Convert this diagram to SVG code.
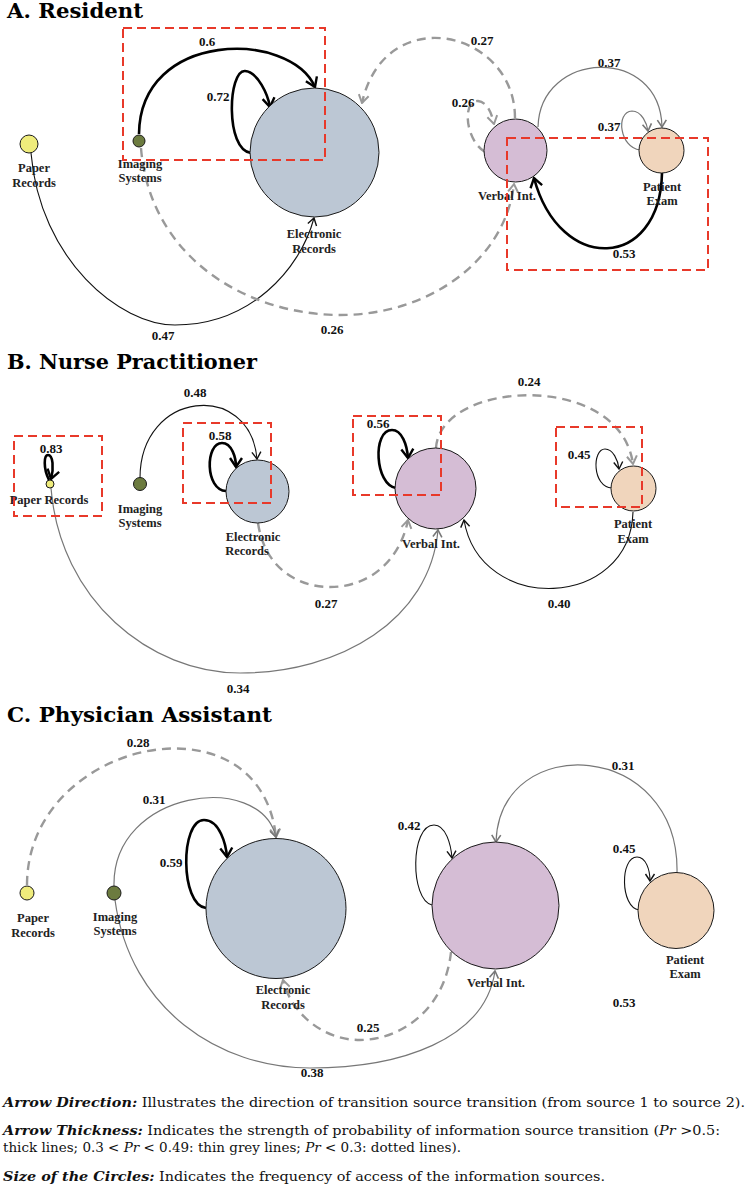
<svg xmlns="http://www.w3.org/2000/svg" width="750" height="1193" viewBox="0 0 750 1193">
<style>
.nd{stroke:#1a1a1a;stroke-width:1}
.lbl{font-family:"Liberation Serif",serif;font-weight:bold;font-size:12.5px;fill:#222;text-anchor:middle}
.el{font-family:"Liberation Serif",serif;font-weight:bold;font-size:13px;fill:#111;text-anchor:middle}
.thick{fill:none;stroke:#000;stroke-width:2.6;marker-end:url(#aThick)}
.thin{fill:none;stroke:#111;stroke-width:1.1;marker-end:url(#aThin)}
.grey{fill:none;stroke:#777;stroke-width:1.2;marker-end:url(#aGrey)}
.dash{fill:none;stroke:#999;stroke-width:2.4;stroke-dasharray:9 6;marker-end:url(#aDash)}
.hl{fill:none;stroke:#e8392a;stroke-width:2;stroke-dasharray:9 5}
.title{font-family:"DejaVu Serif",serif;font-weight:bold;font-size:21px;fill:#000}
.leg{font-family:"DejaVu Serif",serif;font-size:12px;fill:#111}
.legb{font-weight:bold;font-style:italic}
.it{font-style:italic}
.paper{fill:#efec7c}.imaging{fill:#6c7b3f}.elec{fill:#bcc7d4}.verbal{fill:#d5bdd5}.patient{fill:#f0d5bc}
</style>
<defs>
<marker id="aThick" viewBox="-11 -8 13 16" refX="0" refY="0" markerWidth="13" markerHeight="16" markerUnits="userSpaceOnUse" orient="auto"><path d="M-9,-6 L0,0 L-9,6" fill="none" stroke="#000" stroke-width="2.4"/></marker>
<marker id="aThin" viewBox="-9 -6 10 12" refX="0" refY="0" markerWidth="10" markerHeight="12" markerUnits="userSpaceOnUse" orient="auto"><path d="M-7,-4.5 L0,0 L-7,4.5" fill="none" stroke="#111" stroke-width="1.4"/></marker>
<marker id="aGrey" viewBox="-9 -6 10 12" refX="0" refY="0" markerWidth="10" markerHeight="12" markerUnits="userSpaceOnUse" orient="auto"><path d="M-7,-4.5 L0,0 L-7,4.5" fill="none" stroke="#777" stroke-width="1.6"/></marker>
<marker id="aDash" viewBox="-10 -7 11 14" refX="0" refY="0" markerWidth="11" markerHeight="14" markerUnits="userSpaceOnUse" orient="auto"><path d="M-8,-5 L0,0 L-8,5" fill="none" stroke="#999" stroke-width="2"/></marker>
</defs>
<rect width="750" height="1193" fill="#fff"/>

<g id="titles">
<text class="title" x="7" y="18" textLength="136" lengthAdjust="spacingAndGlyphs">A. Resident</text>
<text class="title" x="7" y="369" textLength="250" lengthAdjust="spacingAndGlyphs">B. Nurse Practitioner</text>
<text class="title" x="7" y="722" textLength="265" lengthAdjust="spacingAndGlyphs">C. Physician Assistant</text>
</g>

<g id="connectors">
<!-- A -->
<path class="thick" d="M139,134 C140,30 290,30 315,87"/>
<path class="thick" d="M251,153 C225,150 228,70 245,71 C258,72 268,95 270,107"/>
<path class="thin" d="M31,153 C40,260 120,325 175,325 C250,325 300,270 314,218"/>
<path class="dash" d="M141,148 C150,260 250,315 340,315 C430,315 505,260 514,184"/>
<path class="dash" d="M515,118 C515,30 385,0 362,103"/>
<path class="dash" d="M485,152 C465,140 462,100 478,101 C488,102 492,115 494,124"/>
<path class="grey" d="M538,127 C540,50 660,45 662,127"/>
<path class="grey" d="M640,150 C620,148 615,112 632,111 C642,111 647,124 648,131"/>
<path class="thick" d="M662,173 C660,270 560,275 534,178"/>
<text class="el" x="207" y="46">0.6</text>
<text class="el" x="218" y="101">0.72</text>
<text class="el" x="163" y="340">0.47</text>
<text class="el" x="332" y="334">0.26</text>
<text class="el" x="482" y="45">0.27</text>
<text class="el" x="463" y="107">0.26</text>
<text class="el" x="609" y="67">0.37</text>
<text class="el" x="609" y="131">0.37</text>
<text class="el" x="624" y="258">0.53</text>
<!-- B -->
<path class="thick" d="M49,480 C43,468 44,455 48,455 C53,455 54,468 51,479"/>
<path class="thin" d="M140,478 C140,390 250,380 257,459"/>
<path class="thick" d="M226,491 C205,490 205,443 222,443 C232,443 236,458 236,467"/>
<path class="dash" d="M258,523 C265,570 300,587 330,587 C370,587 400,560 408,520"/>
<path class="thick" d="M396,488 C375,485 372,430 392,430 C402,430 407,445 408,458"/>
<path class="dash" d="M436,448 C440,380 620,370 633,464"/>
<path class="thin" d="M612,488 C592,487 592,449 605,449 C613,449 618,460 619,469"/>
<path class="thin" d="M633,512 C630,610 480,615 464,520"/>
<path class="grey" d="M51,488 C60,600 150,673 240,673 C340,673 430,620 438,530"/>
<text class="el" x="51" y="453">0.83</text>
<text class="el" x="195" y="397">0.48</text>
<text class="el" x="220" y="440">0.58</text>
<text class="el" x="326" y="608">0.27</text>
<text class="el" x="378" y="428">0.56</text>
<text class="el" x="529" y="386">0.24</text>
<text class="el" x="579" y="459">0.45</text>
<text class="el" x="559" y="608">0.40</text>
<text class="el" x="238" y="693">0.34</text>
<!-- C -->
<path class="dash" d="M27,885 C27,740 260,690 276,837"/>
<path class="grey" d="M114,886 C112,790 260,770 276,837"/>
<path class="thick" d="M206,908 C180,905 180,820 204,820 C220,820 226,845 227,857"/>
<path class="grey" d="M115,900 C130,1010 220,1068 310,1068 C400,1068 485,1040 495,971"/>
<path class="dash" d="M451,952 C445,1010 400,1040 360,1040 C320,1040 290,1010 283,980"/>
<path class="thin" d="M432,905 C410,900 410,825 434,825 C446,825 451,845 452,858"/>
<path class="thin" d="M639,910 C620,907 620,857 637,857 C646,857 650,870 650,881"/>
<path class="grey" d="M677,873 C680,740 500,730 496,842"/>
<text class="el" x="138" y="747">0.28</text>
<text class="el" x="154" y="804">0.31</text>
<text class="el" x="171" y="867">0.59</text>
<text class="el" x="312" y="1077">0.38</text>
<text class="el" x="368" y="1032">0.25</text>
<text class="el" x="409" y="830">0.42</text>
<text class="el" x="624" y="853">0.45</text>
<text class="el" x="623" y="770">0.31</text>
<text class="el" x="624" y="1007">0.53</text>
</g>

<!-- A nodes -->
<g id="A-paper"><circle class="nd paper" cx="29" cy="144" r="9"/><text class="lbl" x="34" y="172">Paper</text><text class="lbl" x="34" y="187">Records</text></g>
<g id="A-imaging"><circle class="nd imaging" cx="139" cy="141" r="6"/><text class="lbl" x="140" y="168">Imaging</text><text class="lbl" x="140" y="182">Systems</text></g>
<g id="A-electronic"><circle class="nd elec" cx="314.5" cy="152.5" r="64.5"/><text class="lbl" x="314" y="238">Electronic</text><text class="lbl" x="314" y="253">Records</text></g>
<g id="A-verbal"><circle class="nd verbal" cx="515.5" cy="150.5" r="31.5"/><text class="lbl" x="507" y="200">Verbal Int.</text></g>
<g id="A-patient"><circle class="nd patient" cx="661.5" cy="150.5" r="22.5"/><text class="lbl" x="662" y="191">Patient</text><text class="lbl" x="662" y="205">Exam</text></g>

<!-- B nodes -->
<g id="B-paper"><circle class="nd paper" cx="50" cy="484" r="4"/><text class="lbl" x="49" y="504">Paper Records</text></g>
<g id="B-imaging"><circle class="nd imaging" cx="140" cy="484" r="6.5"/><text class="lbl" x="140" y="513">Imaging</text><text class="lbl" x="140" y="527">Systems</text></g>
<g id="B-electronic"><circle class="nd elec" cx="257.5" cy="491.5" r="31.5"/><text class="lbl" x="253" y="541">Electronic</text><text class="lbl" x="247" y="555">Records</text></g>
<g id="B-verbal"><circle class="nd verbal" cx="435.5" cy="488.5" r="40.5"/><text class="lbl" x="431" y="548">Verbal Int.</text></g>
<g id="B-patient"><circle class="nd patient" cx="633.5" cy="488.5" r="22.5"/><text class="lbl" x="633" y="528">Patient</text><text class="lbl" x="633" y="543">Exam</text></g>

<!-- C nodes -->
<g id="C-paper"><circle class="nd paper" cx="27" cy="893" r="7"/><text class="lbl" x="33" y="922">Paper</text><text class="lbl" x="33" y="937">Records</text></g>
<g id="C-imaging"><circle class="nd imaging" cx="114" cy="893" r="7"/><text class="lbl" x="115" y="921">Imaging</text><text class="lbl" x="115" y="935">Systems</text></g>
<g id="C-electronic"><circle class="nd elec" cx="276" cy="908.5" r="70"/><text class="lbl" x="283" y="994">Electronic</text><text class="lbl" x="283" y="1009">Records</text></g>
<g id="C-verbal"><circle class="nd verbal" cx="495.5" cy="905.5" r="63.5"/><text class="lbl" x="496" y="987">Verbal Int.</text></g>
<g id="C-patient"><circle class="nd patient" cx="676" cy="910.5" r="38"/><text class="lbl" x="685" y="964">Patient</text><text class="lbl" x="685" y="978">Exam</text></g>

<g id="highlights">
<rect class="hl" x="123" y="28" width="202" height="132"/>
<rect class="hl" x="507" y="138" width="201" height="132"/>
<rect class="hl" x="14" y="436" width="88" height="80"/>
<rect class="hl" x="183" y="423" width="88" height="80"/>
<rect class="hl" x="353" y="416" width="88" height="79"/>
<rect class="hl" x="556" y="427" width="86" height="80"/>
</g>

<g id="legend">
<text class="leg" x="3" y="1107" textLength="742" lengthAdjust="spacingAndGlyphs"><tspan class="legb">Arrow Direction:</tspan> Illustrates the direction of transition source transition (from source 1 to source 2).</text>
<text class="leg" x="3" y="1135" textLength="717" lengthAdjust="spacingAndGlyphs"><tspan class="legb">Arrow Thickness:</tspan> Indicates the strength of probability of information source transition (<tspan class="it">Pr</tspan> &gt;0.5:</text>
<text class="leg" x="3" y="1152" textLength="458" lengthAdjust="spacingAndGlyphs">thick lines; 0.3 &lt; <tspan class="it">Pr</tspan> &lt; 0.49: thin grey lines; <tspan class="it">Pr</tspan> &lt; 0.3: dotted lines).</text>
<text class="leg" x="3" y="1181" textLength="602" lengthAdjust="spacingAndGlyphs"><tspan class="legb">Size of the Circles:</tspan> Indicates the frequency of access of the information sources.</text>
</g>
</svg>
